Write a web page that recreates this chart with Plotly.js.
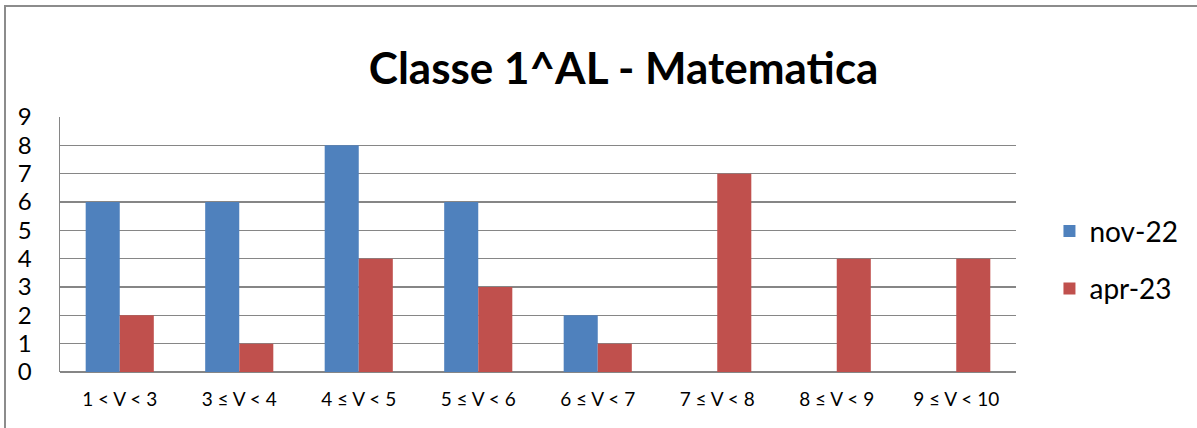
<!DOCTYPE html>
<html><head><meta charset="utf-8">
<script src="https://cdn.plot.ly/plotly-3.0.1.min.js"></script>
<style>
html,body{margin:0;padding:0;background:#fff;}
#wrap{position:relative;width:1197px;height:428px;overflow:hidden;}
#chart{position:absolute;left:0;top:0;width:1197px;height:428px;}
#frame{position:absolute;left:4px;top:5px;width:1300px;height:500px;border-top:2px solid #8c8c8c;border-left:2px solid #8c8c8c;pointer-events:none;}
</style></head>
<body><div id="wrap"><div id="chart"></div><div id="frame"></div></div>
<script>
const categories = ["1 < V < 3","3 ≤ V < 4","4 ≤ V < 5","5 ≤ V < 6","6 ≤ V < 7","7 ≤ V < 8","8 ≤ V < 9","9 ≤ V < 10"];
const nov22 = [6,6,8,6,2,0,0,0];
const apr23 = [2,1,4,3,1,7,4,4];
const seriesNames = ["nov-22","apr-23"];
const yTicks = [0,1,2,3,4,5,6,7,8,9];

const font = "Lato, 'Open Sans', 'Liberation Sans', sans-serif";
const data = [
  {type:'bar', name:seriesNames[0], legendgroup:'a', x:categories, y:nov22, marker:{color:'#4F81BD'}},
  {type:'bar', name:seriesNames[1], legendgroup:'b', x:categories, y:apr23, marker:{color:'#C0504D'}}
];
const layout = {
  width:1197, height:428,
  margin:{l:60, r:181, t:117, b:56},
  paper_bgcolor:'#fff', plot_bgcolor:'#fff',
  barmode:'group', bargap:0.43, bargroupgap:0,
  title:{text:'<b>Classe 1^AL - Matematica</b>', font:{family:font, size:44, color:'#000'}, x:0.521, xanchor:'center', y:0.84, yanchor:'middle'},
  xaxis:{type:'category', showgrid:false, showline:false, zeroline:false, ticks:'', tickfont:{family:font, size:19, color:'#000'}, ticklabelstandoff:14, fixedrange:true},
  yaxis:{range:[0,9], tickvals:yTicks, ticktext:yTicks.map(String), showgrid:true, gridcolor:'#868686', gridwidth:1.5, showline:true, linecolor:'#868686', linewidth:1.5, zeroline:true, zerolinecolor:'#868686', zerolinewidth:1.5, ticks:'', tickfont:{family:font, size:24, color:'#000'}, ticklabelstandoff:22, fixedrange:true},
  showlegend:true,
  legend:{x:1.035, xanchor:'left', y:0.44, yanchor:'middle', traceorder:'grouped', tracegroupgap:18, font:{family:font, size:28, color:'#000'}, bgcolor:'rgba(0,0,0,0)', itemwidth:30},
};
Plotly.newPlot('chart', data, layout, {staticPlot:true});
</script></body></html>
